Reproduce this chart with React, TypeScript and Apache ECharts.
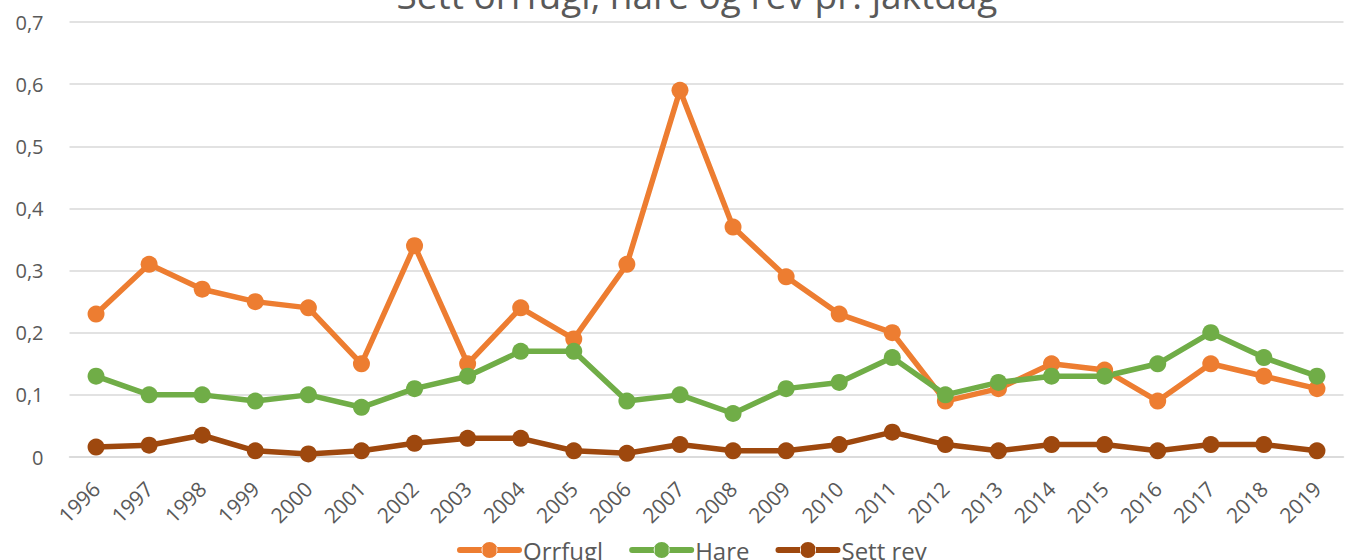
import React, { useEffect, useRef } from "react";
import * as echarts from "echarts";

const years = ["1996","1997","1998","1999","2000","2001","2002","2003","2004","2005","2006","2007","2008","2009","2010","2011","2012","2013","2014","2015","2016","2017","2018","2019"];
const orrfugl = [0.23,0.31,0.27,0.25,0.24,0.15,0.34,0.15,0.24,0.19,0.31,0.59,0.37,0.29,0.23,0.20,0.09,0.11,0.15,0.14,0.09,0.15,0.13,0.11];
const hare = [0.13,0.10,0.10,0.09,0.10,0.08,0.11,0.13,0.17,0.17,0.09,0.10,0.07,0.11,0.12,0.16,0.10,0.12,0.13,0.13,0.15,0.20,0.16,0.13];
const settRev = [0.016,0.019,0.035,0.01,0.005,0.01,0.022,0.03,0.03,0.01,0.006,0.02,0.01,0.01,0.02,0.04,0.02,0.01,0.02,0.02,0.01,0.02,0.02,0.01];

const FONT = "'Open Sans', sans-serif";
const TXT = "#595959";
const LEGEND_ICON =
  "path://M3,5 L25.5,5 L25.5,11 L3,11 A3,3 0 0 1 3,5 Z M39.5,5 L62,5 A3,3 0 0 1 62,11 L39.5,11 Z M24.5,8 A8,8 0 1 0 40.5,8 A8,8 0 1 0 24.5,8 Z M0,8 L0,8 Z M65,8 L65,8 Z M32.5,0 L32.5,0 Z M32.5,16 L32.5,16 Z";

export default function App() {
  const ref = useRef<HTMLDivElement>(null);
  useEffect(() => {
    const chart = echarts.init(ref.current!, null, { renderer: "svg" });
    const mk = (name: string, data: number[], color: string) => ({
      name,
      type: "line",
      data,
      symbol: "circle",
      symbolSize: 17,
      lineStyle: { width: 5.5, color },
      itemStyle: { color },
      emphasis: { disabled: true },
    });
    chart.setOption({
      animation: false,
      textStyle: { fontFamily: FONT },
      title: {
        text: "Sett orrfugl, hare og rev pr. jaktdag",
        left: 692,
        textAlign: "center",
        top: -29,
        textStyle: { fontFamily: FONT, fontSize: 37, fontWeight: "normal", color: TXT },
      },
      grid: { left: 69.5, right: 16.5, top: 22, bottom: 103 },
      legend: {
        bottom: -2,
        left: 457,
        padding: 0,
        icon: LEGEND_ICON,
        itemWidth: 65,
        itemHeight: 16,
        itemGap: 26,
        textStyle: { fontFamily: FONT, fontSize: 24, color: TXT, padding: [0, 0, 0, -4] },
        data: ["Orrfugl", "Hare", "Sett rev"],
      },
      xAxis: {
        type: "category",
        data: years,
        boundaryGap: true,
        axisLine: { show: true, lineStyle: { color: "#D9D9D9", width: 1.5 } },
        axisTick: { show: false },
        axisLabel: { rotate: 45, color: TXT, fontSize: 21, fontFamily: FONT, margin: 28, interval: 0 },
      },
      yAxis: {
        type: "value",
        min: 0,
        max: 0.7,
        interval: 0.1,
        axisLine: { show: false },
        axisTick: { show: false },
        splitLine: { lineStyle: { color: "#D9D9D9", width: 1.5 } },
        axisLabel: {
          color: TXT,
          fontSize: 20,
          fontFamily: FONT,
          margin: 26,
          formatter: (v: number) => (v === 0 ? "0" : v.toFixed(1).replace(".", ",")),
        },
      },
      series: [
        mk("Orrfugl", orrfugl, "#ED7D31"),
        mk("Hare", hare, "#70AD47"),
        mk("Sett rev", settRev, "#9E480E"),
      ],
    });
    return () => chart.dispose();
  }, []);
  return <div ref={ref} style={{ position: "fixed", left: 0, top: 0, width: 1360, height: 560, background: "#fff" }} />;
}
